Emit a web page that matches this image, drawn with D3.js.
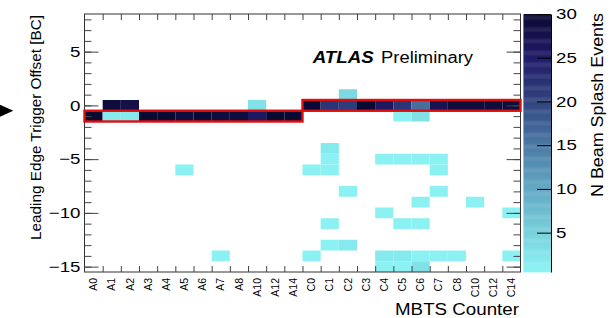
<!DOCTYPE html>
<html lang="en">
<head>
    <meta charset="UTF-8">
    <title>MBTS leading edge offset</title>
    <script src="https://d3js.org/d3.v7.min.js"></script>
    <style>
        body { margin: 0; background: #fff; }
        svg { display: block; font-family: "Liberation Sans", Arial, Helvetica, sans-serif; }
    </style>
</head>
<body>
    <script>
        // Donnees
        var counters = ["A0","A1","A2","A3","A4","A5","A6","A7","A8","A10","A12","A14",
                        "C0","C1","C2","C3","C4","C5","C6","C7","C8","C10","C12","C14"];
        var yMajorTicks = [-15, -10, -5, 0, 5];
        var zTicks = [5, 10, 15, 20, 25, 30];
        var expectedSide = ["A", "C"];
        var expectedOffset = [-1, 0];

        // [compteur, decalage BC, nombre d'evenements]
        var hits = [
            ["A0",-1,30],
            ["A1",0,29],["A1",-1,2],
            ["A2",0,28],["A2",-1,2],
            ["A3",-1,30],["A4",-1,30],["A5",-1,29],["A6",-1,30],["A7",-1,29],["A8",-1,29],
            ["A10",0,3],["A10",-1,26],
            ["A12",-1,30],["A14",-1,30],
            ["A5",-6,1],["A7",-14,1],
            ["C0",0,30],["C0",-6,1],["C0",-14,1],
            ["C1",0,22],["C1",-4,2],["C1",-5,1],["C1",-6,1],["C1",-11,1],["C1",-13,1],
            ["C2",1,4],["C2",0,21],["C2",-8,1],["C2",-13,2],
            ["C3",0,30],
            ["C4",0,26],["C4",-5,1],["C4",-10,1],["C4",-14,2],["C4",-15,1],
            ["C5",0,22],["C5",-1,1],["C5",-5,1],["C5",-11,1],["C5",-14,2],["C5",-15,1],
            ["C6",0,16],["C6",-1,3],["C6",-5,1],["C6",-9,1],["C6",-11,1],["C6",-14,1],["C6",-15,3],
            ["C7",0,27],["C7",-5,1],["C7",-6,1],["C7",-8,1],["C7",-14,1],
            ["C8",0,29],["C8",-14,1],
            ["C10",0,29],["C10",-9,1],
            ["C12",0,29],
            ["C14",0,29],["C14",-10,1],["C14",-14,1]
        ];

        // palette (bleu clair -> bleu nuit)
        var zStops = [0.5, 5, 10, 15, 20, 25, 30];
        var zColors = ["#8df5f5", "#79d0dc", "#63a9c5", "#4c7aa5", "#30447f", "#221c6a", "#0a0933"];

        var W = 615, H = 318;
        var plotL = 84.5, plotR = 520.5, plotT = 14, plotB = 272;
        var SX = 1.25; // le texte horizontal est etire dans l'original

        var svg = d3.select("body").append("svg").attr("width", W).attr("height", H);

        var xBand = d3.scaleBand().domain(counters).range([plotL, plotR]);
        var xEdge = d3.scaleLinear().domain([0, counters.length]).range([plotL, plotR]);
        var y = d3.scaleLinear().domain([-15.5, 8.5]).range([plotB, plotT]);
        var z = d3.scaleLinear().domain(zStops).range(zColors).clamp(true);
        var zPos = d3.scaleLinear().domain([0.5, 30]).range([plotB, plotT]);

        function widen(sel) {
            sel.each(function() {
                var t = d3.select(this);
                var x = +t.attr("x") || 0;
                t.attr("x", x / SX).attr("transform", "scale(" + SX + ",1)");
            });
        }
        function styleAxis(g) {
            g.select(".domain").remove();
            g.selectAll(".tick line").attr("stroke", "#444");
        }

        // cellules
        svg.append("g").selectAll("rect").data(hits).join("rect")
            .attr("x", function(d) { return xBand(d[0]); })
            .attr("width", xBand.bandwidth())
            .attr("y", function(d) { return y(d[1] + 0.5); })
            .attr("height", function(d) { return y(d[1] - 0.5) - y(d[1] + 0.5); })
            .attr("fill", function(d) { return z(d[2]); });

        // cadre
        svg.append("rect").attr("x", plotL).attr("y", plotT)
            .attr("width", plotR - plotL).attr("height", plotB - plotT)
            .attr("fill", "none").attr("stroke", "#333");

        // axe y : graduations mineures et majeures, des deux cotes
        svg.append("g").attr("transform", "translate(" + plotL + ",0)")
            .call(d3.axisLeft(y).tickValues(d3.range(-15, 9)).tickSize(-7).tickFormat(""))
            .call(styleAxis);
        var yl = svg.append("g").attr("transform", "translate(" + plotL + ",0)")
            .call(d3.axisLeft(y).tickValues(yMajorTicks).tickSize(-14).tickPadding(4))
            .call(styleAxis);
        yl.selectAll("text").attr("font-size", 15).attr("fill", "#000").call(widen);
        svg.append("g").attr("transform", "translate(" + plotR + ",0)")
            .call(d3.axisRight(y).tickValues(d3.range(-15, 9)).tickSize(-7).tickFormat(""))
            .call(styleAxis);
        svg.append("g").attr("transform", "translate(" + plotR + ",0)")
            .call(d3.axisRight(y).tickValues(yMajorTicks).tickSize(-14).tickFormat(""))
            .call(styleAxis);

        // axe x : traits aux bords des bins, etiquettes au centre
        svg.append("g").attr("transform", "translate(0," + plotB + ")")
            .call(d3.axisBottom(xEdge).tickValues(d3.range(1, counters.length)).tickSize(-6).tickFormat(""))
            .call(styleAxis);
        svg.append("g").attr("transform", "translate(0," + plotT + ")")
            .call(d3.axisTop(xEdge).tickValues(d3.range(1, counters.length)).tickSize(-6).tickFormat(""))
            .call(styleAxis);
        var xl = svg.append("g").attr("transform", "translate(0," + plotB + ")")
            .call(d3.axisBottom(xBand).tickSize(0))
            .call(styleAxis);
        xl.selectAll("text")
            .attr("font-size", 10.5).attr("fill", "#000")
            .attr("transform", "rotate(-90)")
            .attr("x", -6).attr("y", 0).attr("dy", "0.35em")
            .style("text-anchor", "end");

        // contour rouge : decalage attendu par cote
        svg.append("g").selectAll("rect").data(expectedSide).join("rect")
            .attr("x", function(s) { return xEdge(counters.findIndex(function(c) { return c[0] === s; })); })
            .attr("width", function(s) { return xBand.bandwidth() * counters.filter(function(c) { return c[0] === s; }).length; })
            .attr("y", function(s, i) { return y(expectedOffset[i] + 0.5); })
            .attr("height", function(s, i) { return y(expectedOffset[i] - 0.5) - y(expectedOffset[i] + 0.5); })
            .attr("fill", "none").attr("stroke", "#e00d0d").attr("stroke-width", 2.4);

        // fleche a gauche
        var ya = y(-0.5);
        svg.append("path")
            .attr("d", "M0," + (ya - 6) + "L13.3," + ya + "L0," + (ya + 6) + "Z")
            .attr("fill", "#000");

        // echelle de couleur
        var step = 0.125;
        var zx0 = 523.5, zx1 = 551;
        svg.append("g").selectAll("rect").data(d3.range(0.5, 30, step)).join("rect")
            .attr("x", zx0).attr("width", zx1 - zx0)
            .attr("y", function(v) { return zPos(Math.min(v + step, 30)); })
            .attr("height", function(v) { return zPos(v) - zPos(Math.min(v + step, 30)) + 0.4; })
            .attr("fill", function(v) { return z(v + step / 2); });
        var zl = svg.append("g").attr("transform", "translate(" + zx1 + ",0)")
            .call(d3.axisRight(zPos).tickValues(zTicks).tickSize(-14).tickSizeOuter(0).tickPadding(5));
        zl.select(".domain").attr("stroke", "#000");
        zl.selectAll(".tick line").attr("stroke", "#000");
        zl.selectAll("text").attr("font-size", 15).attr("fill", "#000").call(widen);

        // titres
        svg.append("text")
            .attr("transform", "translate(41," + (plotT + 1) + ") rotate(-90)")
            .attr("text-anchor", "end").attr("font-size", 15.5)
            .attr("textLength", 225).attr("lengthAdjust", "spacingAndGlyphs")
            .text("Leading Edge Trigger Offset [BC]");
        svg.append("text")
            .attr("transform", "translate(603," + (plotT - 1) + ") rotate(-90)")
            .attr("text-anchor", "end").attr("font-size", 16)
            .attr("textLength", 184).attr("lengthAdjust", "spacingAndGlyphs")
            .text("N Beam Splash Events");
        svg.append("text")
            .attr("x", 519).attr("y", 315)
            .attr("text-anchor", "end").attr("font-size", 16)
            .attr("textLength", 124).attr("lengthAdjust", "spacingAndGlyphs")
            .text("MBTS Counter");

        svg.append("text")
            .attr("x", 312.7).attr("y", 63)
            .attr("font-size", 16).attr("font-weight", "bold").attr("font-style", "italic")
            .attr("textLength", 61).attr("lengthAdjust", "spacingAndGlyphs")
            .text("ATLAS");
        svg.append("text")
            .attr("x", 381).attr("y", 63)
            .attr("font-size", 16)
            .attr("textLength", 92).attr("lengthAdjust", "spacingAndGlyphs")
            .text("Preliminary");
    </script>
</body>
</html>
